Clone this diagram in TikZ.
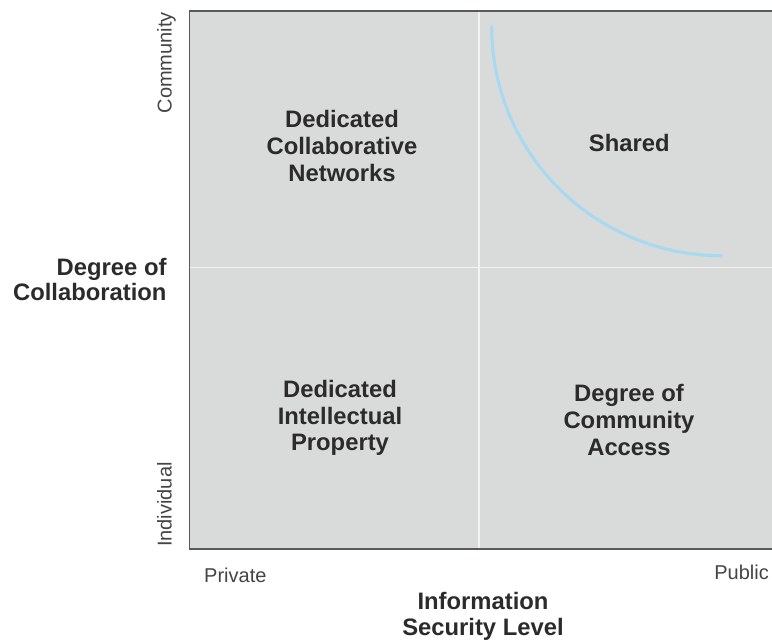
\documentclass[tikz,border=0pt]{standalone}
\usepackage{fontspec}
\setmainfont{Liberation Sans}
\definecolor{quadfill}{HTML}{D9DADA}
\definecolor{borderc}{HTML}{5A5A5A}
\definecolor{divc}{HTML}{F2F2F2}
\definecolor{curvec}{HTML}{A6D9F2}
\definecolor{txtbig}{HTML}{2B2B2B}
\definecolor{txtsmall}{HTML}{444444}
\begin{document}
\begin{tikzpicture}[x=1pt,y=-1pt,
  biglabel/.style={font=\fontsize{23.8}{26.7}\selectfont\bfseries, text=txtbig, align=center, inner sep=0pt},
  axislabel/.style={font=\fontsize{20}{24}\selectfont, text=txtsmall, inner sep=0pt},
  divider/.style={draw=divc, line width=1.5pt},
  frame/.style={draw=borderc, line width=1.5pt}]
\useasboundingbox (0,0) rectangle (772,641);
% quadrant area
\fill[quadfill] (189.5,11) rectangle (775,549);
\draw[divider] (479,11) -- (479,549);
\draw[divider] (189.5,267.7) -- (775,267.7);
\draw[frame] (775,11) -- (189.5,11) -- (189.5,549) -- (775,549);
% curve
\coordinate (cs) at (491.7,26.7);
\draw[curvec, line width=3pt, line cap=round] (cs) arc[start angle=180, end angle=90, x radius=230, y radius=229] coordinate (ce);
% quadrant labels
\node[biglabel] (dcn) at (342,146) {Dedicated\\Collaborative\\Networks};
\node[biglabel] (shared) at (629.3,143) {Shared};
\node[biglabel] (dip) at (340,418) {Dedicated\\Intellectual\\Property};
\node[biglabel] (dca) at (629,420) {Degree of\\Community\\Access};
% axis labels
\node[biglabel, align=right, anchor=east, font=\fontsize{23.8}{25}\selectfont\bfseries] (ylab) at (166.7,279) {Degree of\\Collaboration};
\node[biglabel, font=\fontsize{23.8}{26}\selectfont\bfseries] (xlab) at (483,616) {Information\\Security Level};
\node[axislabel, rotate=90, anchor=base east] (comm) at (171.7,12) {Community};
\node[axislabel, rotate=90, anchor=base west] (indiv) at (171.7,547) {Individual};
\node[axislabel, anchor=base west] (priv) at (204,582) {Private};
\node[axislabel, anchor=base east] (pub) at (769,579) {Public};
\end{tikzpicture}
\end{document}
